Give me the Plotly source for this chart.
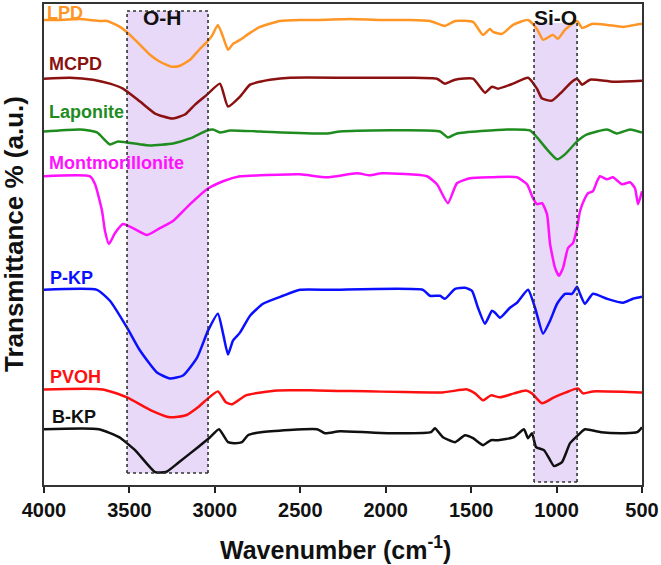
import plotly.graph_objects as go

# ---------------- data (wavenumber in cm-1, transmittance in a.u., stacked) ----------------
lpd_wn = [4000, 3906, 3789, 3672, 3631, 3555, 3497, 3438, 3380, 3321, 3251, 3204, 3145, 3087, 3046, 3017,
          2982, 2952, 2923, 2894, 2853, 2794, 2736, 2619, 2502, 2385, 2209, 2033, 1858, 1741, 1653, 1594,
          1489, 1431, 1390, 1372, 1319, 1255, 1167, 1115, 1079, 1021, 992, 951, 880, 851, 793, 705, 611, 512, 500]
lpd_t = [467, 467, 468, 466, 466, 460, 452, 442, 432, 425, 420, 421, 427, 438, 445, 451,
         462, 450, 437, 443, 447, 454, 460, 466, 467, 467, 468, 467, 467, 466, 461, 466,
         465, 452, 458, 455, 453, 462, 467, 458, 447, 452, 448, 457, 466, 459, 463, 462, 460, 463, 463]

mcpd_wn = [4000, 3848, 3713, 3614, 3538, 3438, 3350, 3251, 3175, 3116, 3046, 2970, 2923, 2853, 2794, 2736,
           2677, 2560, 2209, 1858, 1700, 1653, 1594, 1489, 1419, 1378, 1343, 1255, 1167, 1115, 1085, 1027,
           980, 910, 880, 851, 804, 670, 500]
mcpd_t = [408, 409, 407, 403, 398, 385, 373, 368, 372, 382, 392, 403, 380, 390, 402, 405,
          407, 409, 409, 409, 408, 403, 407, 408, 394, 400, 398, 403, 409, 398, 388, 386,
          393, 405, 408, 402, 407, 405, 406]

lap_wn = [4000, 3789, 3690, 3614, 3567, 3438, 3380, 3245, 3145, 3046, 3011, 2970, 2911, 2736, 2344, 2268,
          1682, 1636, 1583, 1290, 1156, 1109, 1056, 997, 951, 880, 822, 705, 646, 570, 500]
lap_t = [355, 357, 354, 342, 345, 342, 341, 343, 348, 356, 357, 354, 356, 355, 353, 355,
         355, 349, 353, 357, 356, 348, 337, 327, 332, 345, 352, 357, 353, 357, 354]

mont_wn = [4000, 3731, 3701, 3660, 3643, 3620, 3584, 3538, 3479, 3397, 3321, 3245, 3145, 3046, 2952, 2853,
           2736, 2502, 2344, 2168, 2092, 2022, 1758, 1700, 1636, 1583, 1507, 1390, 1232, 1173, 1138, 1115,
           1085, 1056, 1038, 1009, 986, 962, 933, 904, 880, 863, 834, 816, 787, 763, 746, 705, 670, 617,
           570, 541, 523, 500]
mont_t = [310, 310, 302, 275, 255, 242, 253, 262, 258, 251, 258, 265, 282, 297, 305, 310,
          311, 312, 309, 313, 311, 313, 310, 302, 283, 303, 308, 309, 309, 302, 288, 282,
          283, 272, 242, 218, 210, 218, 238, 243, 258, 275, 288, 293, 295, 305, 310, 307, 309, 302,
          304, 298, 282, 295]

pkp_wn = [4000, 3690, 3614, 3514, 3438, 3339, 3263, 3186, 3104, 3040, 2982, 2952, 2923, 2894, 2853, 2794,
          2718, 2601, 2502, 2326, 1782, 1741, 1682, 1653, 1594, 1536, 1495, 1460, 1419, 1378, 1360, 1331,
          1273, 1232, 1167, 1126, 1079, 1038, 997, 951, 910, 880, 863, 834, 787, 705, 611, 553, 500]
pkp_t = [196, 196, 185, 158, 135, 113, 107, 110, 128, 155, 172, 152, 131, 145, 153, 170,
         182, 190, 196, 196, 196, 190, 190, 187, 197, 198, 195, 178, 162, 175, 173, 168,
         178, 183, 196, 178, 152, 165, 182, 192, 192, 199, 192, 182, 192, 187, 183, 187, 189]

pvoh_wn = [4000, 3655, 3514, 3374, 3263, 3169, 3099, 3040, 2982, 2935, 2900, 2818, 2636, 2402, 1665, 1524,
           1477, 1431, 1384, 1331, 1249, 1179, 1144, 1085, 1015, 945, 875, 845, 787, 506, 500]
pvoh_t = [96, 96, 88, 75, 68, 70, 78, 87, 94, 83, 81, 90, 95, 95, 93, 96,
          92, 85, 90, 88, 92, 95, 92, 82, 88, 93, 97, 92, 94, 93, 93]

bkp_wn = [4000, 3678, 3561, 3467, 3350, 3286, 3216, 3099, 3028, 2976, 2923, 2888, 2841, 2806, 2730, 2402,
          2355, 2268, 1987, 1735, 1712, 1665, 1594, 1536, 1489, 1431, 1384, 1343, 1249, 1191, 1167, 1144,
          1120, 1074, 1038, 1015, 968, 921, 875, 834, 740, 600, 529, 500]
bkp_t = [56, 56, 48, 35, 13, 13, 22, 38, 48, 56, 43, 42, 43, 50, 53, 56,
         52, 54, 52, 53, 57, 48, 43, 50, 47, 40, 45, 45, 48, 56, 47, 52,
         38, 35, 25, 19, 23, 42, 50, 56, 53, 52, 53, 58]

series_names = ["LPD", "MCPD", "Laponite", "Montmorillonite", "P-KP", "PVOH", "B-KP"]
series_wn = [lpd_wn, mcpd_wn, lap_wn, mont_wn, pkp_wn, pvoh_wn, bkp_wn]
series_t = [lpd_t, mcpd_t, lap_t, mont_t, pkp_t, pvoh_t, bkp_t]
series_colors = ["#ff9524", "#8b1010", "#1f8c1f", "#ff10ff", "#0a10ff", "#ff1010", "#101010"]
# label anchor (wavenumber, T) for the series names
label_wn = [3994, 3982, 3982, 3982, 3977, 3977, 3965]
label_t = [474, 423, 375, 323, 208, 108, 68]

# shaded bands
band_names = ["O-H", "Si-O"]
band_lo = [3040, 880]
band_hi = [3514, 1132]
band_bottom = [12, 3]
band_top = [476, 464]
band_label_wn = [3309, 1009]

x_ticks = [4000, 3500, 3000, 2500, 2000, 1500, 1000, 500]

FONT = "Arial, Liberation Sans, sans-serif"

fig = go.Figure()
for name, wn, t, c in zip(series_names, series_wn, series_t, series_colors):
    fig.add_trace(go.Scatter(x=wn, y=t, mode="lines", name=name,
                             line=dict(color=c, width=2.5, shape="spline", smoothing=0.5),
                             showlegend=False))

for lo, hi, b, tp, nm in zip(band_lo, band_hi, band_bottom, band_top, band_names):
    fig.add_shape(type="rect", x0=lo, x1=hi, y0=b, y1=tp, xref="x", yref="y",
                  fillcolor="#e8d9f8", line=dict(width=0), layer="below")
    for xx in (lo, hi):
        fig.add_shape(type="line", x0=xx, x1=xx, y0=b, y1=tp, xref="x", yref="y",
                      line=dict(color="#333333", width=1.6, dash="dot"), layer="above")
    fig.add_shape(type="line", x0=lo, x1=hi, y0=b, y1=b, xref="x", yref="y",
                  line=dict(color="#333333", width=1.6, dash="dot"), layer="above")
    if nm == "O-H":
        fig.add_shape(type="line", x0=lo, x1=hi, y0=tp, y1=tp, xref="x", yref="y",
                      line=dict(color="#333333", width=1.6, dash="dot"), layer="above")

for nm, lw in zip(band_names, band_label_wn):
    fig.add_annotation(x=lw, y=469, xref="x", yref="y", text=nm, showarrow=False,
                       font=dict(family=FONT, size=21, color="#111111", weight="bold"),
                       xanchor="center", yanchor="middle")

for name, lw, lt, c in zip(series_names, label_wn, label_t, series_colors):
    fig.add_annotation(x=lw, y=lt, xref="x", yref="y", text=name, showarrow=False,
                       font=dict(family=FONT, size=18, color=c, weight="bold"),
                       xanchor="left", yanchor="middle")

fig.add_annotation(x=0.487, y=-0.13, xref="paper", yref="paper",
                   text="Wavenumber (cm<sup>-1</sup>)", showarrow=False,
                   font=dict(family=FONT, size=25, color="#111111", weight="bold"),
                   xanchor="center", yanchor="middle")
fig.add_annotation(x=-0.05, y=0.522, xref="paper", yref="paper",
                   text="Transmittance % (a.u.)", showarrow=False, textangle=-90,
                   font=dict(family=FONT, size=26, color="#111111", weight="bold"),
                   xanchor="center", yanchor="middle")

fig.update_layout(
    width=661, height=565,
    margin=dict(l=44, r=19, t=2, b=80),
    paper_bgcolor="white", plot_bgcolor="white",
    xaxis=dict(range=[4000, 500], tickvals=x_ticks, ticks="outside", ticklen=6, tickwidth=2,
               tickcolor="#222222", showline=True, linecolor="#333333", linewidth=1.6, mirror=True,
               showgrid=False, zeroline=False,
               tickfont=dict(family=FONT, size=20, color="#111111", weight="bold")),
    yaxis=dict(range=[0, 483], showticklabels=False, ticks="", showline=True, linecolor="#333333",
               linewidth=1.6, mirror=True, showgrid=False, zeroline=False),
)

fig.write_html("out.html")
